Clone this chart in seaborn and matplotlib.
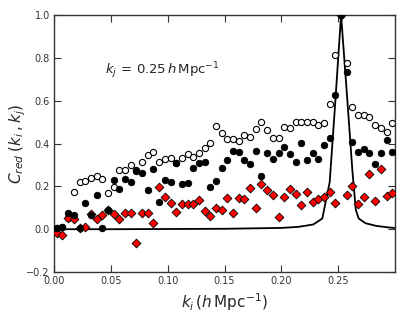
import matplotlib

matplotlib.use("Agg")

import matplotlib.pyplot as plt
import pandas as pd
import seaborn as sns


# bin centres in k_i (h/Mpc)
K_BINS = [
    0.0025, 0.0075, 0.0125, 0.0175, 0.0225, 0.0275, 0.0325, 0.0375, 0.0425, 0.0475,
    0.0525, 0.0575, 0.0625, 0.0675, 0.0725, 0.0775, 0.0825, 0.0875, 0.0925, 0.0975,
    0.1025, 0.1075, 0.1125, 0.1175, 0.1225, 0.1275, 0.1325, 0.1375, 0.1425, 0.1475,
    0.1525, 0.1575, 0.1625, 0.1675, 0.1725, 0.1775, 0.1825, 0.1875, 0.1925, 0.1975,
    0.2025, 0.2075, 0.2125, 0.2175, 0.2225, 0.2275, 0.2325, 0.2375, 0.2425, 0.2475,
    0.2525, 0.2575, 0.2625, 0.2675, 0.2725, 0.2775, 0.2825, 0.2875, 0.2925, 0.2975,
]

C_OPEN = [
    0.005, 0.012, 0.054, 0.175, 0.219, 0.224, 0.239, 0.248, 0.236, 0.167,
    0.199, 0.278, 0.276, 0.300, 0.275, 0.314, 0.346, 0.362, 0.312, 0.328,
    0.331, 0.310, 0.331, 0.351, 0.335, 0.357, 0.379, 0.402, 0.482, 0.448,
    0.421, 0.421, 0.412, 0.438, 0.430, 0.470, 0.499, 0.461, 0.427, 0.427,
    0.478, 0.474, 0.502, 0.502, 0.502, 0.502, 0.486, 0.494, 0.583, 0.812,
    1.000, 0.777, 0.572, 0.533, 0.533, 0.522, 0.486, 0.471, 0.455, 0.494,
]

C_FILLED = [
    0.005, 0.012, 0.074, 0.066, 0.004, 0.121, 0.066, 0.160, 0.004, 0.090,
    0.230, 0.186, 0.234, 0.222, 0.272, 0.261, 0.183, 0.280, 0.128, 0.230,
    0.222, 0.307, 0.209, 0.214, 0.287, 0.311, 0.313, 0.196, 0.223, 0.286,
    0.325, 0.365, 0.360, 0.325, 0.304, 0.365, 0.248, 0.354, 0.328, 0.354,
    0.382, 0.350, 0.315, 0.404, 0.323, 0.354, 0.328, 0.393, 0.427, 0.627,
    1.000, 0.734, 0.409, 0.362, 0.373, 0.354, 0.304, 0.354, 0.416, 0.362,
]

C_RED = [
    -0.019, -0.027, 0.051, 0.046, 0.004, 0.012, 0.071, 0.048, 0.065, 0.090,
    0.070, 0.049, 0.077, 0.077, -0.063, 0.077, 0.077, 0.030, 0.199, 0.149,
    0.124, 0.082, 0.118, 0.117, 0.118, 0.136, 0.085, 0.062, 0.097, 0.090,
    0.148, 0.077, 0.147, 0.141, 0.194, 0.097, 0.211, 0.183, 0.160, 0.058,
    0.149, 0.188, 0.164, 0.111, 0.172, 0.128, 0.139, 0.152, 0.175, 0.124,
    1.000, 0.160, 0.200, 0.118, 0.149, 0.258, 0.133, 0.280, 0.156, 0.168,
]

# window / Gaussian expectation curve
LINE_K = [0.0, 0.05, 0.10, 0.15, 0.20, 0.215, 0.228, 0.236, 0.2425, 0.2475,
          0.2525, 0.2575, 0.2625, 0.2655, 0.268, 0.274, 0.283, 0.293, 0.2995]
LINE_C = [0.0, 0.0, 0.001, 0.002, 0.006, 0.011, 0.022, 0.05, 0.22, 0.60,
          1.0, 0.64, 0.27, 0.09, 0.05, 0.028, 0.016, 0.009, 0.006]

TICK_COLOR = "#333333"


def main() -> None:
    sns.set_style("ticks")
    plt.rcParams["font.family"] = ["DejaVu Sans"]

    pts = pd.DataFrame({"k": K_BINS, "open": C_OPEN, "filled": C_FILLED, "red": C_RED})
    curve = pd.DataFrame({"k": LINE_K, "c": LINE_C})

    fig, ax = plt.subplots(figsize=(4.15, 3.12), dpi=100)
    fig.subplots_adjust(left=0.130, right=0.952, bottom=0.128, top=0.952)

    sns.lineplot(data=curve, x="k", y="c", color="black", linewidth=1.3, ax=ax, zorder=1)
    sns.scatterplot(data=pts, x="k", y="open", marker="o", s=20, facecolor="white",
                    edgecolor="black", linewidth=0.8, ax=ax, zorder=2)
    sns.scatterplot(data=pts, x="k", y="red", marker="D", s=20, color="red",
                    edgecolor="black", linewidth=0.6, ax=ax, zorder=3)
    sns.scatterplot(data=pts, x="k", y="filled", marker="o", s=22, color="black",
                    edgecolor="black", linewidth=0.6, ax=ax, zorder=4)

    ax.set_xlim(0, 0.3)
    ax.set_ylim(-0.2, 1.0)
    ax.set_xticks([0.0, 0.05, 0.10, 0.15, 0.20, 0.25])
    ax.set_xticklabels(["0.00", "0.05", "0.10", "0.15", "0.20", "0.25"])
    ax.set_yticks([-0.2, 0.0, 0.2, 0.4, 0.6, 0.8, 1.0])
    ax.set_yticklabels(["\u22120.2", "0.0", "0.2", "0.4", "0.6", "0.8", "1.0"])
    ax.tick_params(direction="in", top=True, right=True, length=5, width=0.8,
                   labelsize=7, colors=TICK_COLOR, labelcolor=TICK_COLOR, pad=3)
    for sp in ax.spines.values():
        sp.set_color(TICK_COLOR)
        sp.set_linewidth(1.0)

    ax.set_xlabel(r"$k_i\,(h\,\mathrm{Mpc}^{-1})$", fontsize=11, labelpad=4)
    ax.set_ylabel(r"$C_{red}\;(k_i\,,k_j)$", fontsize=11)
    ax.yaxis.set_label_coords(-0.075, 0.5)
    ax.text(0.045, 0.74, r"$k_j\,=\,0.25\,h\,\mathrm{Mpc}^{-1}$", fontsize=9.5,
            va="center", ha="left")

    fig.savefig("out.png", dpi=100)
    plt.close(fig)


if __name__ == "__main__":
    main()
